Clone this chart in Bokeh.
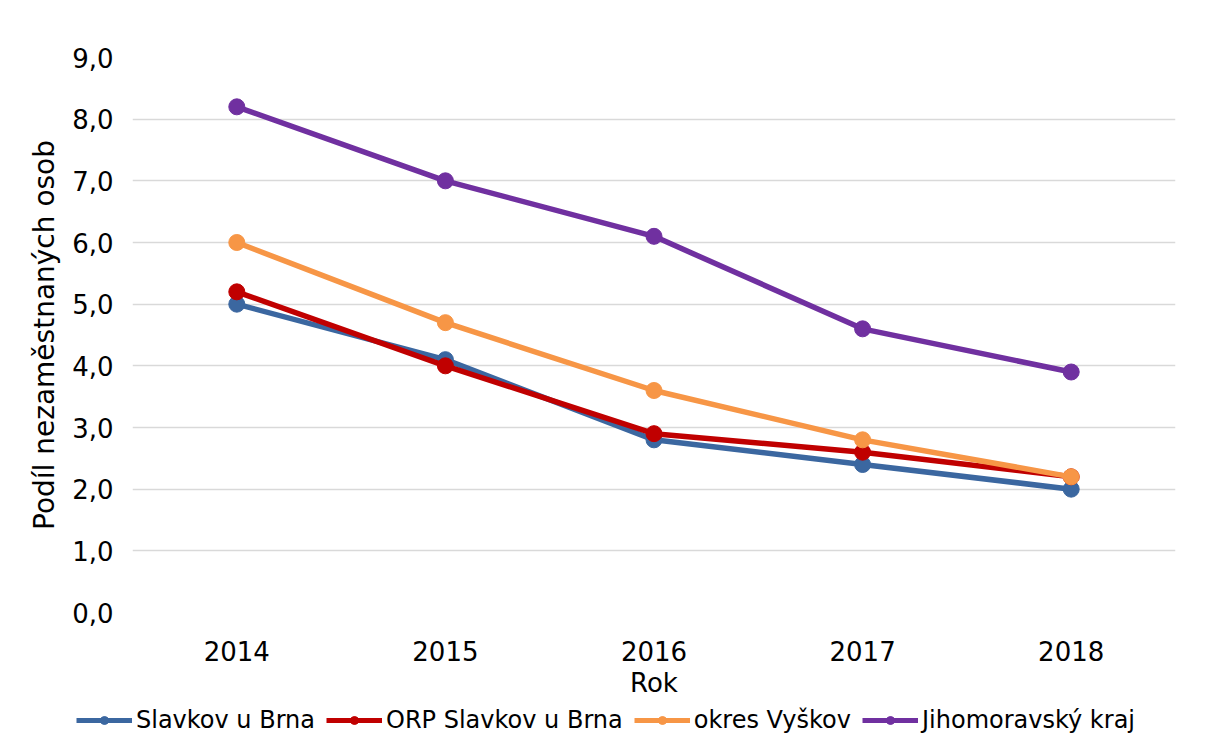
from bokeh.plotting import figure
from bokeh.models import (FactorRange, Range1d, FixedTicker, CustomJSTickFormatter,
                          Legend, LegendItem)
from bokeh.embed import file_html
from bokeh.resources import INLINE

years = ["2014", "2015", "2016", "2017", "2018"]
slavkov = [5.0, 4.1, 2.8, 2.4, 2.0]
orp_slavkov = [5.2, 4.0, 2.9, 2.6, 2.2]
okres_vyskov = [6.0, 4.7, 3.6, 2.8, 2.2]
jihomoravsky = [8.2, 7.0, 6.1, 4.6, 3.9]
y_ticks = [0, 1, 2, 3, 4, 5, 6, 7, 8, 9]

series = [
    ("Slavkov u Brna", slavkov, "#3B67A0"),
    ("ORP Slavkov u Brna", orp_slavkov, "#C00000"),
    ("okres Vyškov", okres_vyskov, "#F79646"),
    ("Jihomoravský kraj", jihomoravsky, "#7030A0"),
]

FONT = "DejaVu Sans"

p = figure(width=1200, height=700, x_range=FactorRange(*years),
           y_range=Range1d(0, 9), output_backend="svg", toolbar_location=None,
           min_border_left=132, min_border_right=25, min_border_top=57,
           min_border_bottom=88, background_fill_color="white",
           border_fill_color="white")
p.x_range.range_padding = 0
p.outline_line_color = None

for name, vals, col in series:
    p.line(years, vals, line_color=col, line_width=5.5)
    p.scatter(years, vals, size=16, fill_color=col, line_color=col)

p.xgrid.grid_line_color = None
p.ygrid.grid_line_color = "#d9d9d9"
p.ygrid.grid_line_width = 1.5

p.yaxis.ticker = FixedTicker(ticks=y_ticks)
p.yaxis.formatter = CustomJSTickFormatter(code="return tick.toFixed(1).replace('.', ',');")
for ax in (p.xaxis, p.yaxis):
    ax.axis_line_color = None
    ax.major_tick_line_color = None
    ax.minor_tick_line_color = None
    ax.major_label_text_font = FONT
    ax.major_label_text_font_size = "26px"
    ax.major_label_text_color = "#000000"
    ax.axis_label_text_font = FONT
    ax.axis_label_text_font_style = "normal"
    ax.axis_label_text_color = "#000000"

p.yaxis.axis_label = "Podíl nezaměstnaných osob"
p.yaxis.axis_label_text_font_size = "28px"
p.yaxis.major_label_standoff = 13
p.yaxis.axis_label_standoff = 8
p.xaxis.axis_label = "Rok"
p.xaxis.axis_label_text_font_size = "26px"
p.xaxis.major_label_standoff = 22
p.xaxis.axis_label_standoff = 4

# legend strip below the chart, as a separate root (no frame alignment)
lg = figure(width=1200, height=36, x_range=Range1d(0, 1), y_range=Range1d(0, 1),
            x_axis_type=None, y_axis_type=None,
            output_backend="svg", toolbar_location=None,
            min_border_left=0, min_border_right=0, min_border_top=0,
            min_border_bottom=0, background_fill_color="white",
            border_fill_color="white")
lg.grid.visible = False
lg.outline_line_color = None
items = []
for name, vals, col in series:
    r1 = lg.line([-5, -4], [-5, -5], line_color=col, line_width=5)
    r2 = lg.scatter([-5], [-5], size=14, fill_color=col, line_color=col)
    items.append(LegendItem(label=name, renderers=[r1, r2]))

legend = Legend(items=items, orientation="horizontal", location=(76, 2),
                label_text_font=FONT, label_text_font_size="24px",
                label_text_color="#000000", glyph_width=56, glyph_height=20,
                label_standoff=4, spacing=11, padding=2, margin=0,
                border_line_color=None, background_fill_alpha=0)
lg.add_layout(legend, "center")

open("out.html", "w").write(file_html([p, lg], INLINE))
